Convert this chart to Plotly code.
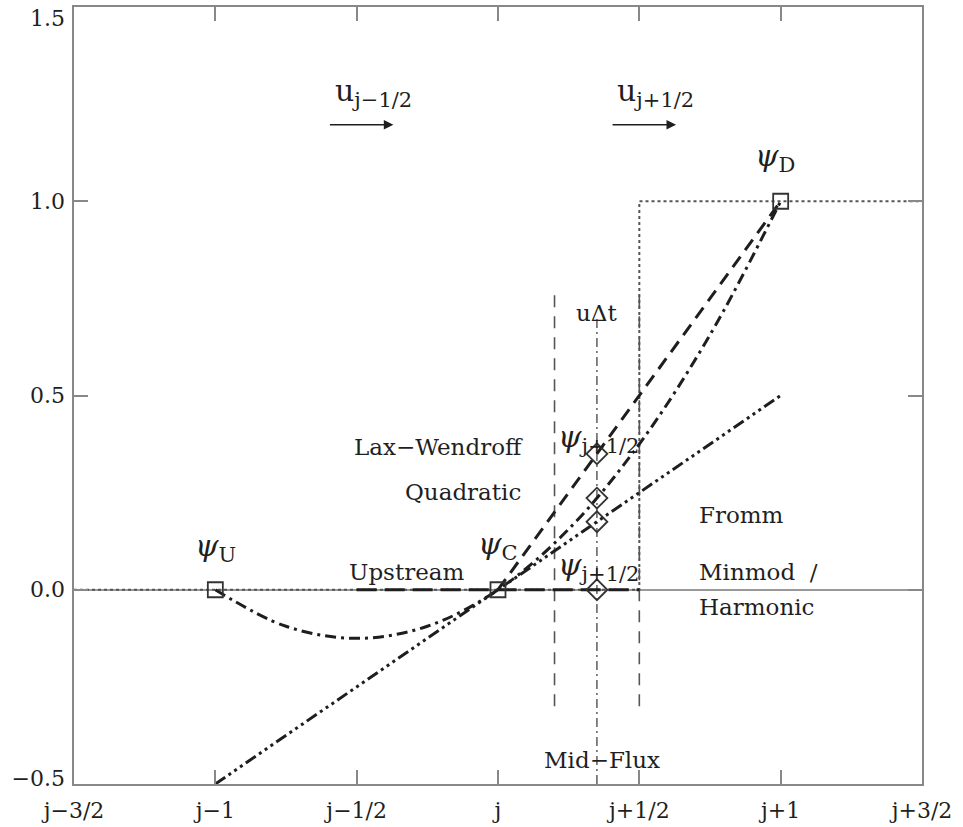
import plotly.graph_objects as go

# ---- data ----
x_tickvals = [-1.5, -1.0, -0.5, 0.0, 0.5, 1.0, 1.5]
x_ticktext = ["j−3/2", "j−1", "j−1/2", "j", "j+1/2", "j+1", "j+3/2"]
y_tickvals = [-0.5, 0.0, 0.5, 1.0, 1.5]
y_ticktext = ["−0.5", "0.0", "0.5", "1.0", "1.5"]
y_labelpos = [-0.485, 0.0, 0.5, 1.0, 1.472]

step_x = [-1.5, 0.5, 0.5, 1.5]
step_y = [0.0, 0.0, 1.0, 1.0]

upstream_x = [-0.5, 0.5]
upstream_y = [0.0, 0.0]

laxw_x = [0.0, 1.0]
laxw_y = [0.0, 1.0]

quad_x = [-1.0, -0.75, -0.5, -0.25, 0.0, 0.25, 0.5, 0.75, 1.0]
quad_y = [0.0, -0.094, -0.125, -0.094, 0.0, 0.156, 0.375, 0.656, 1.0]

fromm_x = [-1.0, 1.0]
fromm_y = [-0.5, 0.5]

cell_x = [0.2, 0.5]
cell_y = [-0.3, 0.78]

midflux_x = 0.35
midflux_y = [-0.5, 0.7]

nodes_x = [-1.0, 0.0, 1.0]
nodes_y = [0.0, 0.0, 1.0]

face_x = [0.35, 0.35, 0.35, 0.35]
face_y = [0.35, 0.236, 0.175, 0.0]

arrow_y = 1.197
arrows = [(-0.60, -0.37), (0.40, 0.63)]

labels = [
    ("Lax−Wendroff", -0.212, 0.368, "center"),
    ("Quadratic", -0.124, 0.252, "center"),
    ("Upstream", -0.322, 0.046, "center"),
    ("Fromm", 0.704, 0.193, "left"),
    ("Minmod  /", 0.704, 0.046, "left"),
    ("Harmonic", 0.704, -0.044, "left"),
    ("uΔt", 0.35, 0.713, "center"),
    ("Mid−Flux", 0.368, -0.438, "center"),
]
psi_labels = [
    ("<i>ψ</i><sub>U</sub>", -1.0, 0.11),
    ("<i>ψ</i><sub>C</sub>", 0.0, 0.115),
    ("<i>ψ</i><sub>D</sub>", 0.98, 1.112),
    ("<i>ψ</i><sub>j+1/2</sub>", 0.357, 0.39),
    ("<i>ψ</i><sub>j+1/2</sub>", 0.357, 0.06),
]
vel_labels = [("u<sub>j−1/2</sub>", -0.584, 1.279), ("u<sub>j+1/2</sub>", 0.414, 1.279)]

FONT = "DejaVu Serif"
INK = "#1e1e1e"
TXT = "#1f1f1f"

fig = go.Figure()

def line(x, y, dash, width=3, color=INK, shape="linear"):
    fig.add_trace(go.Scatter(x=x, y=y, mode="lines", line=dict(color=color, width=width, dash=dash, shape=shape),
                             showlegend=False, hoverinfo="skip"))

# step (initial profile)
line(step_x, step_y, "dot", width=2, color="#555555")
# cell boundaries
for cx in cell_x:
    line([cx, cx], cell_y, "12px,9px", width=1.6, color="#555555")
# mid flux
line([midflux_x, midflux_x], midflux_y, "9px,4px,2px,4px", width=1.3, color="#444444")
# schemes
line(upstream_x, upstream_y, "20px,8px", width=3)
line(laxw_x, laxw_y, "13px,8px", width=3)
line(quad_x, quad_y, "11px,5px,3px,5px", width=3, shape="spline")
line(fromm_x, fromm_y, "12px,4px,3px,4px,3px,4px,3px,4px", width=3)

fig.add_trace(go.Scatter(x=nodes_x, y=nodes_y, mode="markers",
                         marker=dict(symbol="square-open", size=15, color="#333333", line=dict(width=1.8)),
                         showlegend=False, hoverinfo="skip"))
fig.add_trace(go.Scatter(x=face_x, y=face_y, mode="markers",
                         marker=dict(symbol="diamond-open", size=16, color="#333333", line=dict(width=1.8)),
                         showlegend=False, hoverinfo="skip"))
# invisible trace to carry the label axis
fig.add_trace(go.Scatter(x=[0], y=[0], yaxis="y2", mode="markers", marker=dict(opacity=0),
                         showlegend=False, hoverinfo="skip"))

ann = []
for t, x, y, al in labels:
    ann.append(dict(x=x, y=y, text=t, showarrow=False, xanchor=al, yanchor="middle",
                    font=dict(family=FONT, size=23, color=TXT)))
for t, x, y in psi_labels:
    ann.append(dict(x=x, y=y, text=t, showarrow=False, xanchor="center", yanchor="middle",
                    font=dict(family=FONT, size=30, color=TXT)))
for t, x, y in vel_labels:
    ann.append(dict(x=x, y=y, text=t, showarrow=False, xanchor="left", yanchor="middle",
                    font=dict(family=FONT, size=30, color=TXT)))
for x0, x1 in arrows:
    ann.append(dict(x=x1, y=arrow_y, ax=x0, ay=arrow_y, axref="x", ayref="y", xref="x", yref="y",
                    text="", showarrow=True, arrowhead=2, arrowsize=1.2, arrowwidth=1.6, arrowcolor=TXT))

fig.update_layout(
    width=963, height=827,
    margin=dict(l=74, r=41, t=7, b=43, autoexpand=False),
    paper_bgcolor="white", plot_bgcolor="white",
    font=dict(family=FONT, size=22, color=TXT),
    annotations=ann,
    xaxis=dict(range=[-1.5, 1.5], tickvals=x_tickvals, ticktext=x_ticktext, ticks="inside", ticklen=14,
               tickwidth=1.5, tickcolor="#888888", showline=True, linecolor="#888888", linewidth=2,
               mirror="ticks", showgrid=False, zeroline=False, ticklabelstandoff=6, automargin=False,
               tickfont=dict(family=FONT, size=22, color=TXT)),
    yaxis=dict(range=[-0.5, 1.5], tickvals=y_tickvals, ticks="inside", ticklen=14, tickwidth=1.5,
               tickcolor="#888888", showline=True, linecolor="#888888", linewidth=2, mirror="ticks",
               showgrid=False, zeroline=True, zerolinecolor="#999999", zerolinewidth=1.5,
               showticklabels=False, automargin=False),
    yaxis2=dict(range=[-0.5, 1.5], overlaying="y", side="left", tickvals=y_labelpos, ticktext=y_ticktext,
                ticks="", showline=False, showgrid=False, zeroline=False, ticklabelstandoff=8,
                automargin=False, tickfont=dict(family=FONT, size=22, color=TXT)),
)

# remove the browser's default 8px body margin so the figure sits at the window origin
fig.write_html("out.html", config={"displayModeBar": False},
               post_script="document.body.style.margin='0';")
